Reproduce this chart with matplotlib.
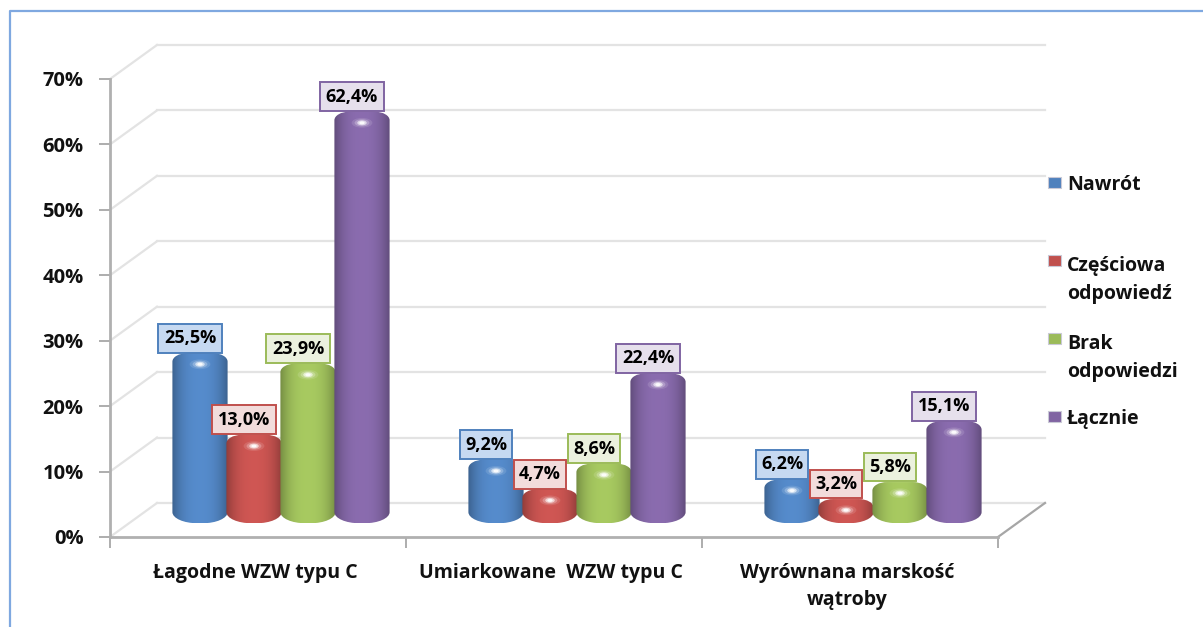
import numpy as np
import matplotlib
matplotlib.use("Agg")
import matplotlib.pyplot as plt
from matplotlib.path import Path
from matplotlib.patches import PathPatch, Rectangle, Ellipse
from matplotlib.colors import to_rgb

categories = ["Łagodne WZW typu C", "Umiarkowane  WZW typu C", "Wyrównana marskość\nwątroby"]
series = ["Nawrót", "Częściowa\nodpowiedź", "Brak\nodpowiedzi", "Łącznie"]
nawrot = [25.5, 9.2, 6.2]
czesciowa = [13.0, 4.7, 3.2]
brak = [23.9, 8.6, 5.8]
lacznie = [62.4, 22.4, 15.1]
colors = ["#4F81BD", "#C0504D", "#9BBB59", "#8064A2"]
label_bg = ["#C6D9F1", "#F2DCDB", "#EBF1DE", "#E6E0EC"]
yticks = [0, 10, 20, 30, 40, 50, 60, 70]

W, H = 1203, 627
plt.rcParams["font.family"] = ["Open Sans", "DejaVu Sans"]
plt.rcParams["font.weight"] = "bold"

fig = plt.figure(figsize=(W / 100, H / 100), dpi=100)

# frame: only the top and left edges are visible in the crop
bg = fig.add_axes([0, 0, 1, 1])
bg.set_xlim(0, W)
bg.set_ylim(H, 0)
bg.axis("off")
bg.plot([9.5, 9.5, W], [H, 11, 11], color="#7FA8E0", lw=1.6)

# front axis: x 110-998 px, 0% at 537 px, 70% at 79 px
ax = fig.add_axes([110 / W, 1 - 537 / H, 888 / W, 458 / H])
ax.set_xlim(0, 3)
ax.set_ylim(0, 70)
ax.patch.set_alpha(0)
for s in ["top", "right"]:
    ax.spines[s].set_visible(False)
for s in ["left", "bottom"]:
    ax.spines[s].set_color("#B0B0B0")
    ax.spines[s].set_linewidth(2)

ax.set_yticks(yticks)
ax.set_yticklabels([f"{v}%" for v in yticks], fontsize=14.5, color="#111111")
ax.set_xticks([0, 1, 2, 3])
ax.set_xticklabels([])
ax.tick_params(axis="both", length=8, width=1.2, color="#A0A0A0")
ax.tick_params(axis="y", pad=11)
for i, c in enumerate(categories):
    ax.text(i + 0.49, -3.9, c, ha="center", va="top", fontsize=14, color="#111111", linespacing=1.5)

# depth of the 3d floor in data units
depth_x = 47 / 296
depth_y = 5.2

# back wall grid, side wall and floor edge
for v in yticks:
    ax.plot([0, depth_x], [v, v + depth_y], color="#E3E3E3", lw=1.6, clip_on=False, zorder=1)
    ax.plot([depth_x, 3 + depth_x], [v + depth_y, v + depth_y], color="#E3E3E3", lw=1.6, clip_on=False, zorder=1)
ax.plot([3, 3 + depth_x], [0, depth_y], color="#A6A6A6", lw=1.6, clip_on=False, zorder=1)

bar_w = 54 / 296
base = 2.1
shift = 23 / 296
all_vals = [nawrot, czesciowa, brak, lacznie]

shade = np.abs(np.linspace(-1, 1, 64))


def bar_path(x0, x1, y0, y1, rx_top, ry_top, rx_bot, ry_bot):
    k = 0.55
    verts = [
        (x0, y0 + ry_bot),
        (x0, y1 - ry_top),
        (x0, y1 - ry_top * (1 - k)), (x0 + rx_top * (1 - k), y1), (x0 + rx_top, y1),
        (x1 - rx_top, y1),
        (x1 - rx_top * (1 - k), y1), (x1, y1 - ry_top * (1 - k)), (x1, y1 - ry_top),
        (x1, y0 + ry_bot),
        (x1, y0 + ry_bot * (1 - k)), (x1 - rx_bot * (1 - k), y0), (x1 - rx_bot, y0),
        (x0 + rx_bot, y0),
        (x0 + rx_bot * (1 - k), y0), (x0, y0 + ry_bot * (1 - k)), (x0, y0 + ry_bot),
        (x0, y0 + ry_bot),
    ]
    codes = [Path.MOVETO, Path.LINETO, Path.CURVE4, Path.CURVE4, Path.CURVE4, Path.LINETO,
             Path.CURVE4, Path.CURVE4, Path.CURVE4, Path.LINETO,
             Path.CURVE4, Path.CURVE4, Path.CURVE4, Path.LINETO,
             Path.CURVE4, Path.CURVE4, Path.CURVE4, Path.CLOSEPOLY]
    return Path(verts, codes)


for j, vals in enumerate(all_vals):
    rgb = np.array(to_rgb(colors[j]))
    # darker towards the edges, lit a bit in the middle
    grad = np.array([rgb * (1.08 - 0.32 * s ** 2.5) for s in shade]).clip(0, 1)[None, :, :]
    for i, v in enumerate(vals):
        cx = i + 0.5 + shift + (j - 1.5) * bar_w
        x0, x1 = cx - bar_w / 2 - 0.002, cx + bar_w / 2 + 0.002
        top = base + v + 0.5
        patch = PathPatch(bar_path(x0, x1, base, top, 0.05, 1.3, 0.085, 1.7), fc="none", ec="none")
        ax.add_patch(patch)
        z = 3 + j * 0.1
        im = ax.imshow(grad, extent=[x0, x1, base, top], aspect="auto", zorder=z, interpolation="bilinear")
        im.set_clip_path(patch)
        # small bright spot on the top of the cylinder, soft edge from stacked ellipses
        for w, h, a in [(0.07, 1.5, 0.12), (0.05, 1.1, 0.25), (0.032, 0.75, 0.6), (0.018, 0.45, 0.9)]:
            ax.add_patch(Ellipse((cx, top - 1.7), w, h, fc="white", ec="none", alpha=a, zorder=z + 0.05))
        ax.text(cx - 10 / 296, top + 2.3, f"{v:.1f}%".replace(".", ","), ha="center", va="center", fontsize=13,
                color="black", zorder=6,
                bbox=dict(boxstyle="square,pad=0.3", fc=label_bg[j], ec=colors[j], lw=1.4))

# legend drawn by hand because the rows are unevenly spaced
leg_y = [183, 261, 339, 417]
for name, col, y in zip(series, colors, leg_y):
    bg.add_patch(Rectangle((1048, y - 6), 13, 11, fc=col, ec="#C9C9D6", lw=0.8))
    text_y = y + 19 if "\n" in name else y + 2
    bg.text(1067, text_y, name, ha="left", va="center", fontsize=14, color="#111111", linespacing=1.5)

fig.savefig("out.png", dpi=100)
